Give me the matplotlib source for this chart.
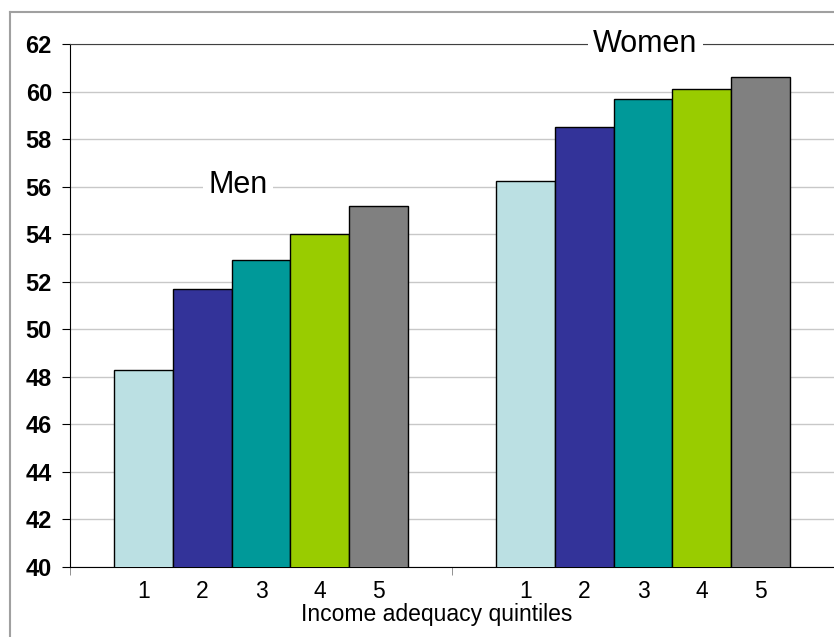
import numpy as np
import matplotlib.pyplot as plt
from matplotlib.lines import Line2D

groups = ['Men', 'Women']
quintiles = ['1', '2', '3', '4', '5']
men = [48.3, 51.7, 52.9, 54.0, 55.2]
women = [56.25, 58.5, 59.7, 60.1, 60.6]
colors = ['#BBE0E3', '#333399', '#009999', '#99CC00', '#808080']

plt.rcParams['font.family'] = ['Liberation Sans', 'DejaVu Sans']

fig = plt.figure(figsize=(8.34, 6.37), dpi=100)
ax = fig.add_axes([70/834, 70/637, 764/834, 523/637])

bw = 0.154
offsets = (np.arange(5) - 2) * bw
centers = []
for g, vals in enumerate([men, women]):
    xs = g + 0.5 + offsets
    ax.bar(xs, vals, width=bw, bottom=0, color=colors, edgecolor='black',
           linewidth=1.0, zorder=3)
    centers.extend(xs)

ax.set_ylim(40, 62)
ax.set_xlim(0, 764/383)
ax.set_yticks(np.arange(40, 63, 2))
ax.set_yticklabels([str(v) for v in range(40, 63, 2)], fontweight='bold', fontsize=17)
ax.yaxis.grid(True, color='#c8c8c8', linewidth=1.0, zorder=0)

ax.set_xticks(centers)
ax.set_xticklabels(quintiles * 2, fontsize=16.5)
ax.set_xticks([0, 1, 2], minor=True)
ax.tick_params(axis='x', which='major', length=0, pad=9)
ax.tick_params(axis='x', which='minor', length=6, color='#808080')
ax.tick_params(axis='y', length=6, pad=7)

ax.spines['right'].set_visible(False)
ax.spines['top'].set_color('#404040')
ax.spines['left'].set_color('black')
ax.spines['bottom'].set_color('black')

ax.text(0.44, 56.05, 'Men', ha='center', va='center', fontsize=22, zorder=5,
        bbox=dict(facecolor='white', edgecolor='none', pad=4))
ax.text(1.506, 62, 'Women', ha='center', va='center', fontsize=22, zorder=5,
        clip_on=False, bbox=dict(facecolor='white', edgecolor='none', pad=4))

fig.text(437/834, 1 - 615/637, 'Income adequacy quintiles', ha='center',
         va='center', fontsize=16.5)

# outer frame
fig.add_artist(Line2D([10/834, 10/834], [0, 1 - 12/637], color='#a0a0a0', lw=1.5))
fig.add_artist(Line2D([10/834, 1], [1 - 12/637, 1 - 12/637], color='#a0a0a0', lw=1.5))

fig.savefig('out.png', dpi=100)
